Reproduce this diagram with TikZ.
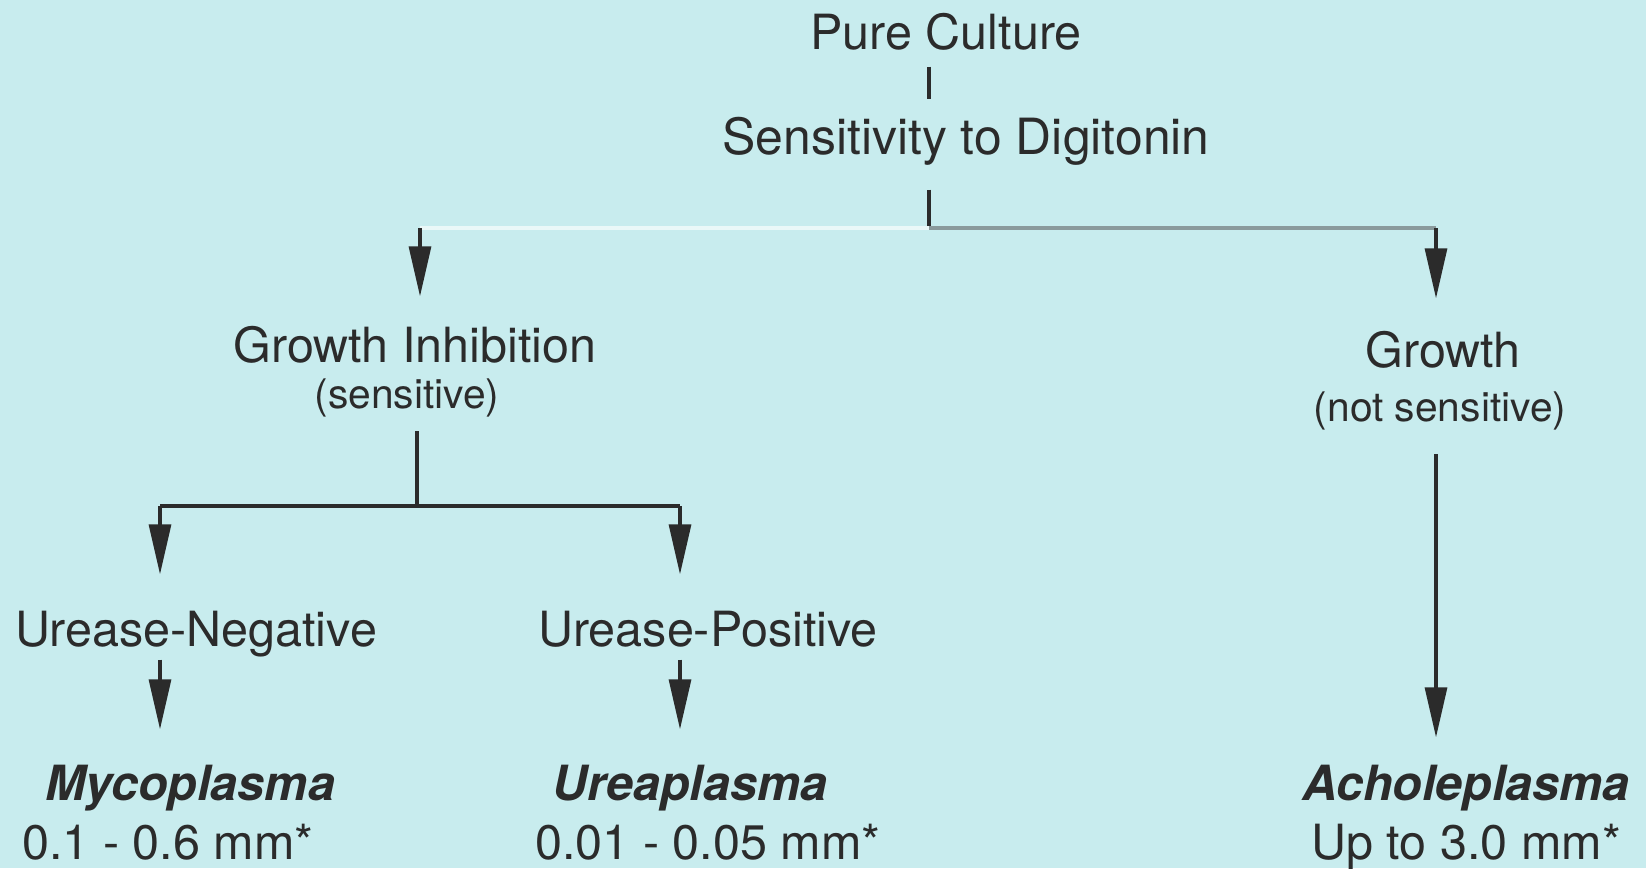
\documentclass[tikz,border=0pt]{standalone}
\usepackage{fontspec}
\setmainfont{TeX Gyre Heros}
\usepackage{tikz}
\usetikzlibrary{arrows.meta, positioning}

\definecolor{paper}{HTML}{C8ECEE}
\definecolor{ink}{HTML}{2B2B2B}
\definecolor{wire}{HTML}{8A9A9C}
\definecolor{pale}{HTML}{EAF8F8}

\newcommand{\mainsize}{\fontsize{13.8}{16}\selectfont}
\newcommand{\notesize}{\fontsize{11.6}{14}\selectfont}

\begin{document}
\begin{tikzpicture}[
  lbl/.style={font=\mainsize, text=ink, inner sep=0pt, text height=0.35cm,
              text depth=0.1cm, anchor=base},
  note/.style={font=\notesize, text=ink, inner sep=0pt, text height=0.29cm,
               text depth=0.09cm, anchor=base},
  genus/.style={lbl, font=\mainsize\bfseries\itshape},
  line/.style={draw=ink, line width=0.9pt},
  arr/.style={line, -{Triangle[length=0.5cm, width=0.22cm]}}
]
\useasboundingbox (0,0) rectangle (16.46,-8.68);
\fill[paper] (0,0) rectangle (16.46,-8.68);

\node[lbl] (pure) at (9.46,-0.49) {Pure Culture};
\node[lbl, font=\fontsize{14.2}{16}\selectfont] (sens) at (9.66,-1.54) {Sensitivity to Digitonin};
\node[lbl] (inhib) at (4.15,-3.62) {Growth Inhibition};
\node[note, below=0.06cm of inhib, xshift=-0.08cm] (inhibnote) {(sensitive)};
\node[lbl] (growth) at (14.43,-3.67) {Growth};
\node[note, below=0.14cm of growth, xshift=-0.03cm] (growthnote) {(not sensitive)};
\node[lbl] (neg) at (1.96,-6.46) {Urease-Negative};
\node[lbl] (pos) at (7.08,-6.46) {Urease-Positive};
\node[genus] (myco) at (1.90,-8.00) {Mycoplasma};
\node[lbl, below=0.13cm of myco, xshift=-0.22cm] (mycosize) {0.1 - 0.6 mm*};
\node[genus] (urea) at (6.90,-8.00) {Ureaplasma};
\node[lbl, below=0.13cm of urea, xshift=0.18cm] (ureasize) {0.01 - 0.05 mm*};
\node[genus] (achole) at (14.66,-8.00) {Acholeplasma};
\node[lbl, below=0.13cm of achole] (acholesize) {Up to 3.0 mm*};

\coordinate (hub) at (9.29,-2.28);
\coordinate (leftin) at (4.20,-2.28);
\coordinate (rightin) at (14.36,-2.28);
\coordinate (split) at (4.17,-5.06);
\coordinate (negin) at (1.60,-5.06);
\coordinate (posin) at (6.80,-5.06);

\draw[line, shorten <=0.07cm, shorten >=0.19cm] (pure.south -| hub) -- (sens.north -| hub);
\draw[line, shorten <=0.25cm] (sens.south -| hub) -- (hub);
\draw[draw=pale, line width=0.9pt] (hub) -- (leftin);
\draw[draw=wire, line width=0.9pt] (hub) -- (rightin);
\draw[arr, shorten >=0.30cm] (leftin) -- (leftin |- inhib.north);
\draw[arr, shorten >=0.33cm] (rightin) -- (rightin |- growth.north);
\draw[line, shorten <=0.13cm] (inhibnote.south -| split) -- (split);
\draw[line] (negin) -- (posin);
\draw[arr, shorten >=0.36cm] (negin) -- (negin |- neg.north);
\draw[arr, shorten >=0.36cm] (posin) -- (posin |- pos.north);
\draw[arr, shorten <=0.03cm, shorten >=0.35cm] (neg.south -| negin) -- (myco.north -| negin);
\draw[arr, shorten <=0.03cm, shorten >=0.35cm] (pos.south -| posin) -- (urea.north -| posin);
\draw[arr, shorten <=0.23cm, shorten >=0.27cm] (growthnote.south -| rightin) -- (achole.north -| rightin);
\end{tikzpicture}
\end{document}
